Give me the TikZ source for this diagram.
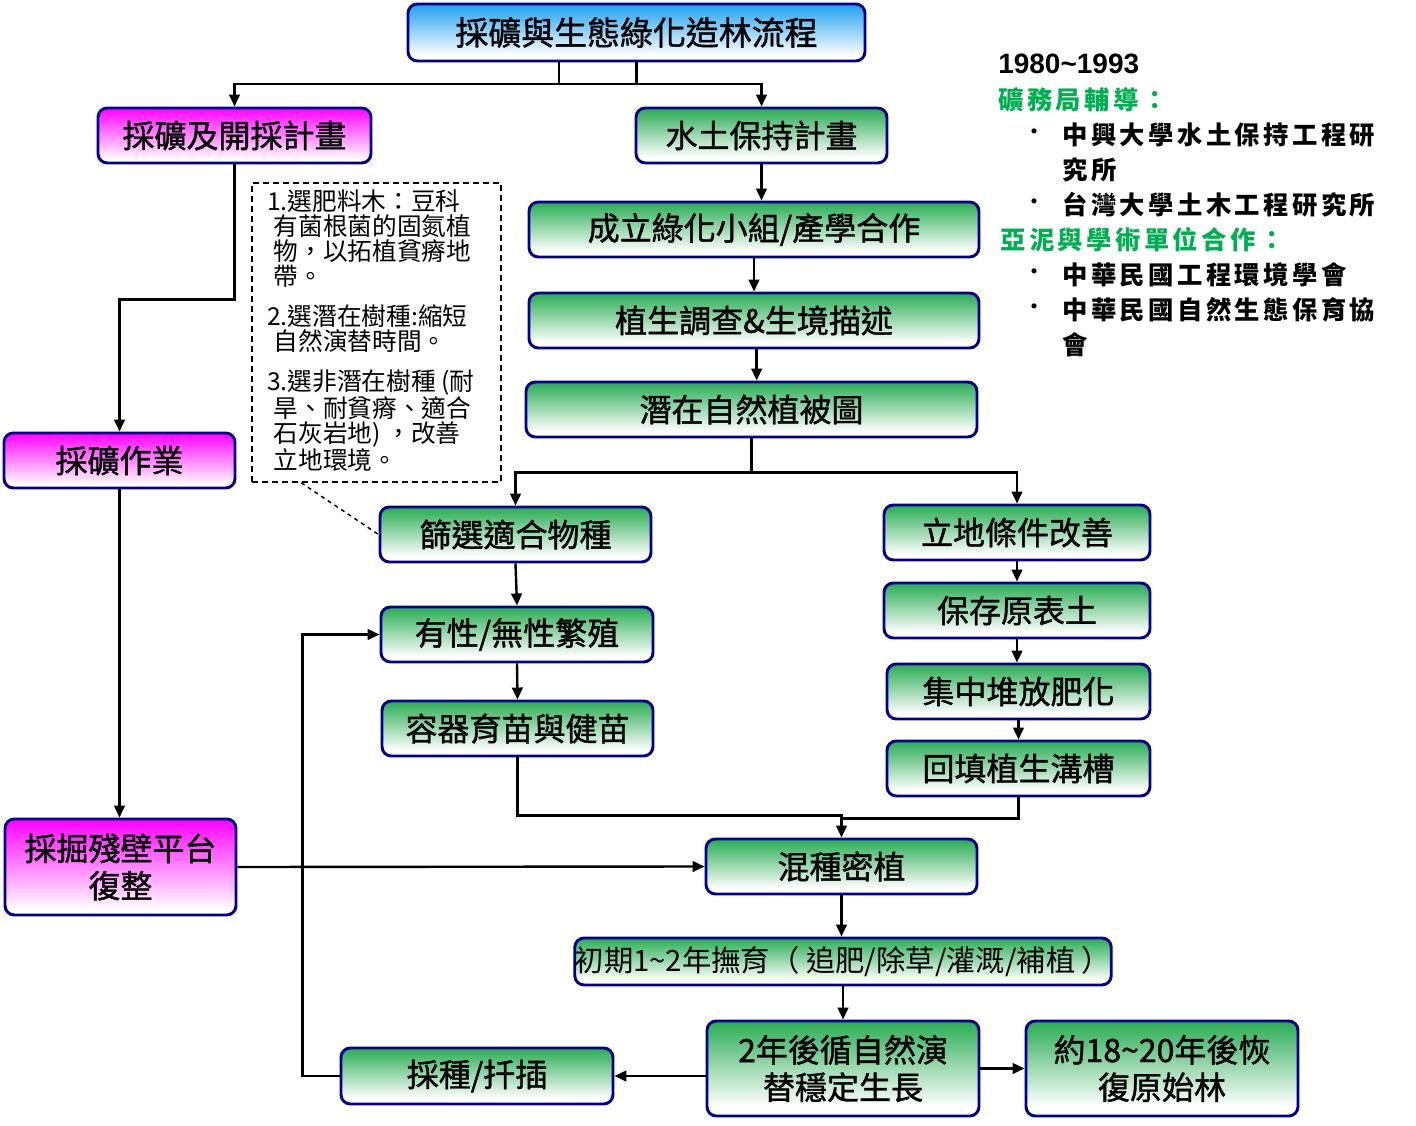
\documentclass[tikz,border=0pt]{standalone}
\usepackage{fontspec}
\setmainfont{Noto Sans CJK TC}
\newfontfamily\yearfont{Liberation Sans}
\newfontfamily\boxfont[FakeBold=1.2]{Noto Sans CJK TC}
\newfontfamily\rtfont[LetterSpace=13.5]{Noto Sans CJK TC}
\usetikzlibrary{arrows.meta}
\definecolor{bnavy}{RGB}{0,0,140}
\definecolor{gtop}{RGB}{40,172,82}
\definecolor{mtop}{RGB}{255,0,255}
\definecolor{btop}{RGB}{30,160,238}
\definecolor{hgreen}{RGB}{0,176,80}
\pgfdeclareverticalshading{gshade}{100bp}{color(0bp)=(white); color(30bp)=(white); color(75bp)=(gtop); color(100bp)=(gtop)}
\pgfdeclareverticalshading{mshade}{100bp}{color(0bp)=(white); color(28bp)=(white); color(75bp)=(mtop); color(100bp)=(mtop)}
\pgfdeclareverticalshading{bshade}{100bp}{color(0bp)=(white); color(30bp)=(white); color(75bp)=(btop); color(100bp)=(btop)}
\tikzset{
  box/.style={draw=bnavy, line width=2.2pt, rounded corners=7pt, align=center, inner sep=0pt,
              font=\boxfont\fontsize{24pt}{28pt}\selectfont},
  gbox/.style={box, shade, shading=gshade},
  mbox/.style={box, shade, shading=mshade},
  tbox/.style={box, shade, shading=bshade, font=\boxfont\fontsize{24.7pt}{30pt}\selectfont},
  arr/.style={line width=1.8pt, -{Triangle[length=9pt,width=8pt]}},
  ln/.style={line width=1.8pt},
  rt/.style={anchor=west, inner sep=0pt, font=\rtfont\bfseries\fontsize{19pt}{22pt}\selectfont},
  bul/.style={inner sep=0pt, font=\fontsize{18pt}{20pt}\selectfont}
}
\begin{document}
\begin{tikzpicture}[x=0.75pt,y=-0.75pt]
\useasboundingbox (0,0) rectangle (1416,1126);
% boxes
\node[tbox, minimum width=342.75pt, minimum height=42.75pt] (title) at (636.5,32.5) {採礦與生態綠化造林流程};
\node[mbox, minimum width=204.75pt, minimum height=41.25pt] (mineplan) at (234.5,135.5) {採礦及開採計畫};
\node[gbox, minimum width=188.25pt, minimum height=41.25pt] (soil) at (761.5,135.5) {水土保持計畫};
\node[gbox, minimum width=337.5pt, minimum height=41.25pt] (team) at (754,229.5) {成立綠化小組/產學合作};
\node[gbox, minimum width=337.5pt, minimum height=41.25pt] (survey) at (754,320.5) {植生調查\&生境描述};
\node[gbox, minimum width=338.25pt, minimum height=41.25pt] (pnv) at (751.5,409.5) {潛在自然植被圖};
\node[mbox, minimum width=173.25pt, minimum height=41.25pt] (miningop) at (119.5,460.5) {採礦作業};
\node[gbox, minimum width=203.25pt, minimum height=41.25pt] (select) at (515.5,534.5) {篩選適合物種};
\node[gbox, minimum width=204pt, minimum height=41.25pt] (propagate) at (517,634.5) {有性/無性繁殖};
\node[gbox, minimum width=203.25pt, minimum height=41.25pt] (nursery) at (517.5,728.5) {容器育苗與健苗};
\node[gbox, minimum width=199.5pt, minimum height=41.25pt] (site) at (1017,532.5) {立地條件改善};
\node[gbox, minimum width=199.5pt, minimum height=41.25pt] (topsoil) at (1017,610.5) {保存原表土};
\node[gbox, minimum width=197.25pt, minimum height=41.25pt] (compost) at (1018.5,691.5) {集中堆放肥化};
\node[gbox, minimum width=197.25pt, minimum height=41.25pt] (trench) at (1018.5,768.5) {回填植生溝槽};
\node[mbox, minimum width=173.25pt, minimum height=72pt] (restore) at (120.5,867) {採掘殘壁平台\\復整};
\node[gbox, minimum width=203.25pt, minimum height=41.25pt] (mixed) at (841.5,866.5) {混種密植};
\node[gbox, minimum width=399pt, minimum height=35.25pt, font=\fontsize{22pt}{24pt}\selectfont] (tending) at (843,961.5) {初期1\textasciitilde2年撫育（ 追肥/除草/灌溉/補植 ）};
\node[gbox, minimum width=204pt, minimum height=42pt] (cutting) at (477,1076) {採種/扦插};
\node[gbox, minimum width=204pt, minimum height=71.25pt] (succession) at (843,1068.5) {2年後循自然演\\替穩定生長};
\node[gbox, minimum width=204pt, minimum height=71.25pt] (climax) at (1162,1068.5) {約18\textasciitilde20年後恢\\復原始林};
% note
\node[draw, dash pattern=on 4.5pt off 3pt, line width=1.2pt, minimum width=186.75pt, minimum height=224.25pt, inner sep=0pt] (note) at (376.5,332.5) {};
\node[anchor=north west, inner sep=0pt, align=left, font=\fontsize{18.5pt}{18.75pt}\selectfont] (notetext) at (267,189)
{1.選肥料木：豆科\\
\hspace*{5pt}有菌根菌的固氮植\\
\hspace*{5pt}物，以拓植貧瘠地\\
\hspace*{5pt}帶。\\[11.25pt]
2.選潛在樹種:縮短\\
\hspace*{5pt}自然演替時間。\\[11.25pt]
3.選非潛在樹種 (耐\\
\hspace*{5pt}旱、耐貧瘠、適合\\
\hspace*{5pt}石灰岩地) ，改善\\
\hspace*{5pt}立地環境。};
% right text
\node[anchor=west, inner sep=0pt, font=\yearfont\bfseries\fontsize{21pt}{24pt}\selectfont] (year) at (998,64) {1980\textasciitilde1993};
\node[rt, text=hgreen] (h1) at (998,100) {礦務局輔導：};
\node[bul] (b1) at (1034,135) {•};
\node[rt] (r1) at (1062,135) {中興大學水土保持工程研};
\node[rt] (r1b) at (1062,170) {究所};
\node[bul] (b2) at (1034,205) {•};
\node[rt] (r2) at (1062,205) {台灣大學土木工程研究所};
\node[rt, text=hgreen] (h2) at (1000,240) {亞泥與學術單位合作：};
\node[bul] (b3) at (1034,275) {•};
\node[rt] (r3) at (1062,275) {中華民國工程環境學會};
\node[bul] (b4) at (1034,310) {•};
\node[rt] (r4) at (1062,310) {中華民國自然生態保育協};
\node[rt] (r4b) at (1062,345) {會};
% connectors
\coordinate (tA) at (559,84);
\draw[arr] (title.south -| tA) -- (tA) -| (mineplan.north);
\draw[arr] (title.south) -- (title.south |- tA) -| (soil.north);
\draw[ln] (tA) -- (title.south |- tA);
\draw[arr] (mineplan.south) -- ++(0,135) -| (miningop.north);
\draw[arr] (miningop.south) -- (miningop.south |- restore.north);
\draw[arr] (soil.south) -- (soil.south |- team.north);
\draw[arr] (team.south) -- (survey.north);
\draw[arr] ([xshift=2pt]survey.south) -- ([xshift=2pt]survey.south |- pnv.north);
\draw[arr] (pnv.south) -- ++(0,34) -| (select.north);
\draw[arr] (pnv.south) -- ++(0,34) -| (site.north);
\draw[arr] (select.south) -- (propagate.north);
\draw[arr] (propagate.south) -- (nursery.north);
\draw[arr] (site.south) -- (topsoil.north);
\draw[arr] (topsoil.south) -- (topsoil.south |- compost.north);
\draw[arr] (compost.south) -- (trench.north);
\draw[arr] (nursery.south) -- ++(0,58) -| (mixed.north);
\draw[ln] (trench.south) -- ++(0,21) -| ([yshift=5pt]mixed.north);
\draw[arr] (restore.east) -- (mixed.west);
\draw[arr] (mixed.south) -- (mixed.south |- tending.north);
\draw[arr] (tending.south) -- (succession.north);
\draw[arr] (succession.west |- cutting.east) -- (cutting.east);
\draw[arr] (succession.east) -- (climax.west);
\draw[arr] (cutting.west) -- ++(-37,0) |- (propagate.west);
\draw[dashed, line width=1.1pt] ([xshift=37.5pt]note.south west) -- (select.west);
\end{tikzpicture}
\end{document}
